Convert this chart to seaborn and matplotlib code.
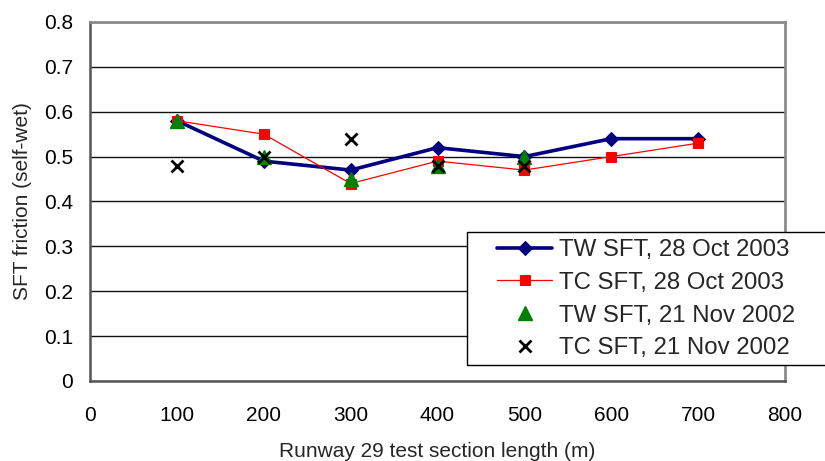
import matplotlib
matplotlib.use("Agg")
import matplotlib.pyplot as plt
from matplotlib.patches import Rectangle
import seaborn as sns
import pandas as pd

# Section positions along runway 29 (m)
length_2003 = [100, 200, 300, 400, 500, 600, 700]
tw_2003 = [0.58, 0.49, 0.47, 0.52, 0.50, 0.54, 0.54]
tc_2003 = [0.58, 0.55, 0.44, 0.49, 0.47, 0.50, 0.53]

length_2002 = [100, 200, 300, 400, 500]
tw_2002 = [0.58, 0.50, 0.45, 0.48, 0.50]
tc_2002 = [0.48, 0.50, 0.54, 0.48, 0.48]

labels = ["TW SFT, 28 Oct 2003", "TC SFT, 28 Oct 2003",
          "TW SFT, 21 Nov 2002", "TC SFT, 21 Nov 2002"]

x_ticks = [0, 100, 200, 300, 400, 500, 600, 700, 800]
y_ticks = [0, 0.1, 0.2, 0.3, 0.4, 0.5, 0.6, 0.7, 0.8]

sns.set_theme(style="white")
plt.rcParams["font.family"] = ["Liberation Sans", "DejaVu Sans"]

W, H = 825, 461
fig = plt.figure(figsize=(W / 100, H / 100), dpi=100)
ax = fig.add_axes([90 / W, 1 - 381 / H, (785 - 90) / W, (381 - 22) / H])

df03 = pd.DataFrame({"x": length_2003, "tw": tw_2003, "tc": tc_2003})
df02 = pd.DataFrame({"x": length_2002, "tw": tw_2002, "tc": tc_2002})

sns.lineplot(data=df03, x="x", y="tw", ax=ax, color="#000080", lw=2.6,
             marker="D", markersize=7.5, markeredgecolor="#000080",
             label=labels[0], zorder=3)
sns.lineplot(data=df03, x="x", y="tc", ax=ax, color="#ff0000", lw=0.9,
             marker="s", markersize=7.2, markeredgecolor="#ff0000",
             label=labels[1], zorder=4)
ax.plot(df02["x"], df02["tw"], linestyle="none", marker="^", markersize=9.5,
        color="#008000", markeredgecolor="#008000", label=labels[2], zorder=5)
ax.plot(df02["x"], df02["tc"], linestyle="none", marker="x", markersize=8.5,
        markeredgewidth=2.0, color="black", label=labels[3], zorder=6)

ax.set_xlim(0, 800)
ax.set_ylim(0, 0.8)
ax.set_xticks(x_ticks)
ax.set_yticks(y_ticks)
ax.set_xticklabels([str(v) for v in x_ticks])
ax.set_yticklabels(["0" if v == 0 else f"{v:.1f}" for v in y_ticks])
ax.yaxis.grid(True, color="#111111", linewidth=1.0)
ax.set_axisbelow(True)

for side in ("top", "right"):
    ax.spines[side].set_color("#8c8c8c")
    ax.spines[side].set_linewidth(2)
for side in ("left", "bottom"):
    ax.spines[side].set_color("#555555")
    ax.spines[side].set_linewidth(1.8)

ax.tick_params(axis="both", direction="out", length=7, width=1,
               color="#333333", labelsize=15, labelcolor="black")
ax.tick_params(axis="x", pad=11)
ax.tick_params(axis="y", pad=5)

ax.set_xlabel("Runway 29 test section length (m)", fontsize=15, labelpad=12)
ax.set_ylabel("SFT friction (self-wet)", fontsize=15, labelpad=9)

# Legend box, running off the right edge of the figure
box = Rectangle((467 / W, 1 - 365 / H), (840 - 467) / W, (365 - 232) / H,
                transform=fig.transFigure, facecolor="white",
                edgecolor="black", linewidth=1.0, clip_on=False, zorder=9)
ax.add_patch(box)

leg = ax.legend(loc="upper left", bbox_to_anchor=(497 / W, 1 - 239 / H),
                bbox_transform=fig.transFigure, fontsize=17.3, frameon=False,
                borderpad=0, labelspacing=0.45, handlelength=2.3,
                handletextpad=0.3, borderaxespad=0)
leg.set_zorder(10)

fig.savefig("out.png", dpi=100)
